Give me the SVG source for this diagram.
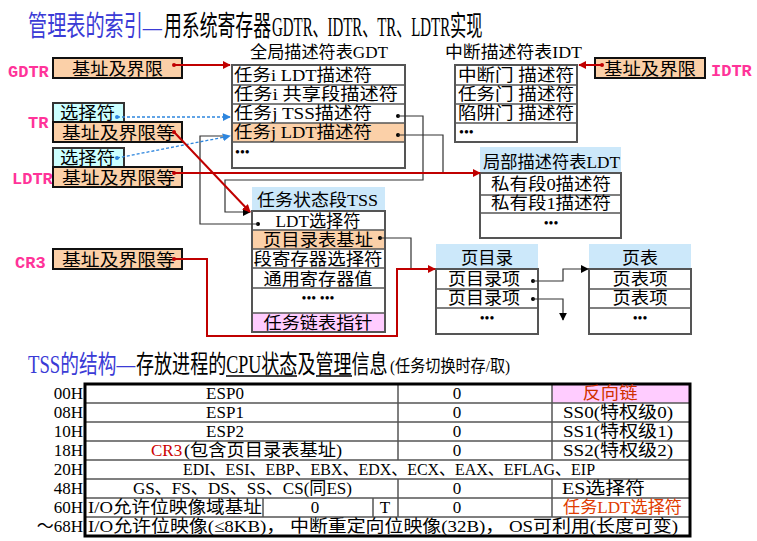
<svg xmlns="http://www.w3.org/2000/svg" width="757" height="541" viewBox="0 0 757 541">
<style>
text{font-family:"Liberation Serif","Noto Sans CJK SC",serif;fill:#000}
.t{font-size:17px}
.c{text-anchor:middle}
.e{text-anchor:end}
.lbl{font-family:"Liberation Mono","Noto Sans CJK SC",monospace;font-weight:bold;font-size:17px;fill:#ff3399}
.tbl{fill:#fff;stroke:#555;stroke-width:2}
.rl{stroke:#555;stroke-width:1.5;fill:none}
.hdr{fill:#cce8fa}
.org{fill:#fbd0a8}
.pnk{fill:#ffccff}
.reg{stroke:#111;stroke-width:2}
.sel{fill:#ccffff;stroke:#333;stroke-width:2}
.dot{fill:#000}
.red{stroke:#c00000;stroke-width:2;fill:none}
.blk{stroke:#333;stroke-width:1.2;fill:none}
.blu{stroke:#2e86de;stroke-width:1.3;stroke-dasharray:3 2;fill:none}
.dots{font-size:14px}
.ttl{font-size:28px}
.ttl2{font-size:25px}
.bl{fill:#3b3bd6}
.ul{stroke:#000;stroke-width:1.5}
</style>
<defs>
<marker id="ar" viewBox="0 0 10 10" refX="9" refY="5" markerWidth="8" markerHeight="8" markerUnits="userSpaceOnUse" orient="auto"><path d="M0,0L10,5L0,10z" fill="#c00000"/></marker>
<marker id="ab" viewBox="0 0 10 10" refX="9" refY="5" markerWidth="8" markerHeight="8" markerUnits="userSpaceOnUse" orient="auto"><path d="M0,0L10,5L0,10z" fill="#000"/></marker>
<marker id="au" viewBox="0 0 10 10" refX="9" refY="5" markerWidth="8" markerHeight="8" markerUnits="userSpaceOnUse" orient="auto"><path d="M0,0L10,5L0,10z" fill="#2e86de"/></marker>
</defs>
<rect width="757" height="541" fill="#fff"/>

<!-- Title 1 -->
<g id="title1">
<text class="ttl bl" transform="translate(28,36) scale(0.684,1)">管理表的索引—</text>
<text class="ttl" transform="translate(164,36) scale(0.637,1)">用系统寄存器</text>
<text class="ttl" transform="translate(272,36) scale(0.533,1)">GDTR、IDTR、TR、LDTR</text>
<text class="ttl" transform="translate(450,36) scale(0.58,1)">实现</text>
</g>

<!-- GDTR -->
<g id="gdtr">
<text class="lbl" x="8" y="77">GDTR</text>
<rect class="org reg" x="53" y="58" width="129" height="20"/>
<text class="t" x="72" y="75" textLength="91" lengthAdjust="spacingAndGlyphs">基址及界限</text>
<circle cx="174" cy="65" r="2" fill="#c00000"/>
</g>

<!-- TR -->
<g id="tr">
<text class="lbl" x="28" y="128">TR</text>
<rect class="sel" x="53" y="103" width="71" height="19"/>
<text class="t" x="60" y="119" textLength="55" lengthAdjust="spacingAndGlyphs">选择符</text>
<rect class="org reg" x="53" y="122" width="129" height="20"/>
<text class="t" x="62" y="139" textLength="113" lengthAdjust="spacingAndGlyphs">基址及界限等</text>
<circle cx="117" cy="117" r="2" fill="#2e86de"/>
<circle cx="174" cy="132" r="2" fill="#c00000"/>
</g>

<!-- LDTR -->
<g id="ldtr">
<text class="lbl" x="12" y="184">LDTR</text>
<rect class="sel" x="53" y="148" width="71" height="19"/>
<text class="t" x="60" y="164" textLength="55" lengthAdjust="spacingAndGlyphs">选择符</text>
<rect class="org reg" x="53" y="167" width="129" height="20"/>
<text class="t" x="62" y="184" textLength="113" lengthAdjust="spacingAndGlyphs">基址及界限等</text>
<circle cx="117" cy="158" r="2" fill="#2e86de"/>
<circle cx="174" cy="173" r="2" fill="#c00000"/>
</g>

<!-- CR3 -->
<g id="cr3">
<text class="lbl" x="15" y="268">CR3</text>
<rect class="org reg" x="53" y="249" width="129" height="20"/>
<text class="t" x="62" y="266" textLength="113" lengthAdjust="spacingAndGlyphs">基址及界限等</text>
<circle cx="174" cy="259" r="2" fill="#c00000"/>
</g>

<!-- IDTR -->
<g id="idtr">
<rect class="org reg" x="595" y="58" width="110" height="20"/>
<text class="t" x="604" y="75" textLength="92" lengthAdjust="spacingAndGlyphs">基址及界限</text>
<circle cx="602" cy="65" r="2" fill="#c00000"/>
<text class="lbl" x="711" y="76">IDTR</text>
</g>

<!-- GDT -->
<g id="gdt">
<text class="t" x="250" y="58" textLength="138" lengthAdjust="spacingAndGlyphs">全局描述符表GDT</text>
<rect class="tbl" x="232" y="65" width="173" height="103"/>
<rect class="org" x="233" y="123" width="171" height="19"/>
<path class="rl" d="M232,85H405M232,104H405M232,123H405M232,142H405"/>
<text class="t" x="234" y="81" textLength="138" lengthAdjust="spacingAndGlyphs">任务i LDT描述符</text>
<text class="t" x="234" y="100" textLength="164" lengthAdjust="spacingAndGlyphs">任务i 共享段描述符</text>
<text class="t" x="234" y="119" textLength="138" lengthAdjust="spacingAndGlyphs">任务j TSS描述符</text>
<text class="t" x="234" y="138" textLength="138" lengthAdjust="spacingAndGlyphs">任务j LDT描述符</text>
<text class="dots" x="235" y="157">•••</text>
<circle class="dot" cx="398" cy="116" r="2"/>
<circle class="dot" cx="398" cy="135" r="2"/>
</g>

<!-- IDT -->
<g id="idt">
<text class="t" x="445" y="58" textLength="137" lengthAdjust="spacingAndGlyphs">中断描述符表IDT</text>
<rect class="tbl" x="455" y="65" width="122" height="77"/>
<path class="rl" d="M455,85H577M455,104H577M455,123H577"/>
<text class="t" x="458" y="81" textLength="116" lengthAdjust="spacingAndGlyphs">中断门 描述符</text>
<text class="t" x="458" y="100" textLength="116" lengthAdjust="spacingAndGlyphs">任务门 描述符</text>
<text class="t" x="458" y="119" textLength="116" lengthAdjust="spacingAndGlyphs">陷阱门 描述符</text>
<text class="dots" x="459" y="137">•••</text>
</g>

<!-- LDT -->
<g id="ldt">
<rect class="hdr" x="480" y="147" width="141" height="26"/>
<text class="t" x="483" y="168" textLength="137" lengthAdjust="spacingAndGlyphs">局部描述符表LDT</text>
<rect class="tbl" x="480" y="173" width="141" height="65"/>
<path class="rl" d="M480,195H621M480,213H621"/>
<text class="t c" x="551" y="190" textLength="120" lengthAdjust="spacingAndGlyphs">私有段0描述符</text>
<text class="t c" x="551" y="209" textLength="120" lengthAdjust="spacingAndGlyphs">私有段1描述符</text>
<text class="dots c" x="551" y="228">•••</text>
</g>

<!-- TSS -->
<g id="tss">
<rect class="hdr" x="252" y="187" width="133" height="24"/>
<text class="t" x="257" y="206" textLength="121" lengthAdjust="spacingAndGlyphs">任务状态段TSS</text>
<rect class="tbl" x="252" y="211" width="133" height="121"/>
<rect class="org" x="253" y="230" width="131" height="19"/>
<rect class="pnk" x="253" y="313" width="131" height="18"/>
<path class="rl" d="M252,230H385M252,249H385M252,268H385M252,288H385M252,313H385"/>
<text class="t c" x="318" y="227" textLength="85" lengthAdjust="spacingAndGlyphs">LDT选择符</text>
<text class="t c" x="318" y="246" textLength="110" lengthAdjust="spacingAndGlyphs">页目录表基址</text>
<text class="t c" x="318" y="265" textLength="129" lengthAdjust="spacingAndGlyphs">段寄存器选择符</text>
<text class="t c" x="318" y="285" textLength="109" lengthAdjust="spacingAndGlyphs">通用寄存器值</text>
<text class="dots c" x="318" y="303">••• •••</text>
<text class="t c" x="318" y="329" textLength="109" lengthAdjust="spacingAndGlyphs">任务链表指针</text>
<circle class="dot" cx="258" cy="224" r="2"/>
<circle class="dot" cx="380" cy="238" r="2"/>
</g>

<!-- Page directory -->
<g id="pagedir">
<rect class="hdr" x="436" y="244" width="102" height="25"/>
<text class="t c" x="487" y="264" textLength="52" lengthAdjust="spacingAndGlyphs">页目录</text>
<rect class="tbl" x="436" y="269" width="102" height="65"/>
<path class="rl" d="M436,289H538M436,308H538"/>
<text class="t c" x="484" y="285" textLength="72" lengthAdjust="spacingAndGlyphs">页目录项</text>
<text class="t c" x="484" y="304" textLength="72" lengthAdjust="spacingAndGlyphs">页目录项</text>
<text class="dots c" x="487" y="323">•••</text>
<circle class="dot" cx="533" cy="281" r="2"/>
<circle class="dot" cx="533" cy="299" r="2"/>
</g>

<!-- Page table -->
<g id="pagetable">
<rect class="hdr" x="589" y="244" width="102" height="25"/>
<text class="t c" x="640" y="264" textLength="36" lengthAdjust="spacingAndGlyphs">页表</text>
<rect class="tbl" x="589" y="269" width="102" height="65"/>
<path class="rl" d="M589,289H691M589,308H691"/>
<text class="t c" x="640" y="285" textLength="55" lengthAdjust="spacingAndGlyphs">页表项</text>
<text class="t c" x="640" y="304" textLength="55" lengthAdjust="spacingAndGlyphs">页表项</text>
<text class="dots c" x="640" y="323">•••</text>
</g>

<!-- Connectors -->
<g id="connectors">
<path class="red" d="M174,65H230" marker-end="url(#ar)"/>
<path class="red" d="M602,65H579" marker-end="url(#ar)"/>
<path class="blu" d="M117,117H230" marker-end="url(#au)"/>
<path class="blk" d="M258,224H200V136H226"/>
<path class="blu" d="M117,158L230,136" marker-end="url(#au)"/>
<path class="blk" d="M398,116H423V180H225V212H250" marker-end="url(#ab)"/>
<path class="red" d="M174,132L250,212" marker-end="url(#ar)"/>
<path class="blk" d="M398,135H443V173"/>
<path class="red" d="M174,173H480" marker-end="url(#ar)"/>
<path class="blk" d="M380,238H411V269"/>
<path class="red" d="M174,259H207V336H397V269H435" marker-end="url(#ar)"/>
<path class="blk" d="M533,281H563V269H588" marker-end="url(#ab)"/>
<path class="blk" d="M533,299H563V320" marker-end="url(#ab)"/>
</g>

<!-- Title 2 -->
<g id="title2">
<text class="ttl2 bl" transform="translate(28,373) scale(0.75,1)">TSS的结构—</text>
<text class="ttl2" transform="translate(136,373) scale(0.722,1)">存放进程的CPU状态及管理信息</text>
<path class="ul" d="M226,376H297M316,376H352"/>
<text font-size="17" transform="translate(390,372) scale(0.89,1)">(任务切换时存/取)</text>
</g>

<!-- TSS structure table -->
<g id="tsstable">
<rect x="85" y="384" width="605" height="152" fill="#fff"/>
<rect x="552" y="384" width="138" height="19" fill="#ffccff"/>
<path class="rl" d="M85,403H690M85,422H690M85,441H690M85,460H690M85,479H690M85,498H690M85,517H690M398,384V460M552,384V460M398,479V517M552,479V517M263,498V517M373,498V517"/>
<rect x="85" y="384" width="605" height="152" fill="none" stroke="#000" stroke-width="3"/>
<text class="t e" x="83" y="399">00H</text>
<text class="t e" x="83" y="418">08H</text>
<text class="t e" x="83" y="437">10H</text>
<text class="t e" x="83" y="456">18H</text>
<text class="t e" x="83" y="475">20H</text>
<text class="t e" x="83" y="494">48H</text>
<text class="t e" x="83" y="513">60H</text>
<text class="t e" x="83" y="532">～68H</text>

<text class="t c" x="225" y="399">ESP0</text>
<text class="t c" x="225" y="418">ESP1</text>
<text class="t c" x="225" y="437">ESP2</text>
<text class="t" x="151" y="456" style="fill:#cc0000">CR3</text>
<text class="t" x="184" y="456" textLength="158" lengthAdjust="spacingAndGlyphs">(包含页目录表基址)</text>
<text class="t" x="183" y="475" textLength="412" lengthAdjust="spacingAndGlyphs">EDI、ESI、EBP、EBX、EDX、ECX、EAX、EFLAG、EIP</text>
<text class="t" x="133" y="494" textLength="219" lengthAdjust="spacingAndGlyphs">GS、FS、DS、SS、CS(同ES)</text>
<text class="t" x="88" y="513" textLength="174" lengthAdjust="spacingAndGlyphs">I/O允许位映像域基址</text>
<text class="t c" x="315" y="513">0</text>
<text class="t c" x="385" y="513">T</text>
<text class="t" x="88" y="532" textLength="590" lengthAdjust="spacingAndGlyphs">I/O允许位映像(≤8KB)， 中断重定向位映像(32B)， OS可利用(长度可变)</text>

<text class="t c" x="457" y="399">0</text>
<text class="t c" x="457" y="418">0</text>
<text class="t c" x="457" y="437">0</text>
<text class="t c" x="457" y="456">0</text>
<text class="t c" x="457" y="494">0</text>
<text class="t c" x="457" y="513">0</text>

<text class="t c" x="610" y="399" style="fill:#d03000" textLength="55" lengthAdjust="spacingAndGlyphs">反向链</text>
<text class="t" x="563" y="418" textLength="110" lengthAdjust="spacingAndGlyphs">SS0(特权级0)</text>
<text class="t" x="563" y="437" textLength="110" lengthAdjust="spacingAndGlyphs">SS1(特权级1)</text>
<text class="t" x="563" y="456" textLength="110" lengthAdjust="spacingAndGlyphs">SS2(特权级2)</text>
<text class="t" x="562" y="494" textLength="83" lengthAdjust="spacingAndGlyphs">ES选择符</text>
<text class="t" x="563" y="513" style="fill:#e03c00" textLength="119" lengthAdjust="spacingAndGlyphs">任务LDT选择符</text>
</g>
</svg>
